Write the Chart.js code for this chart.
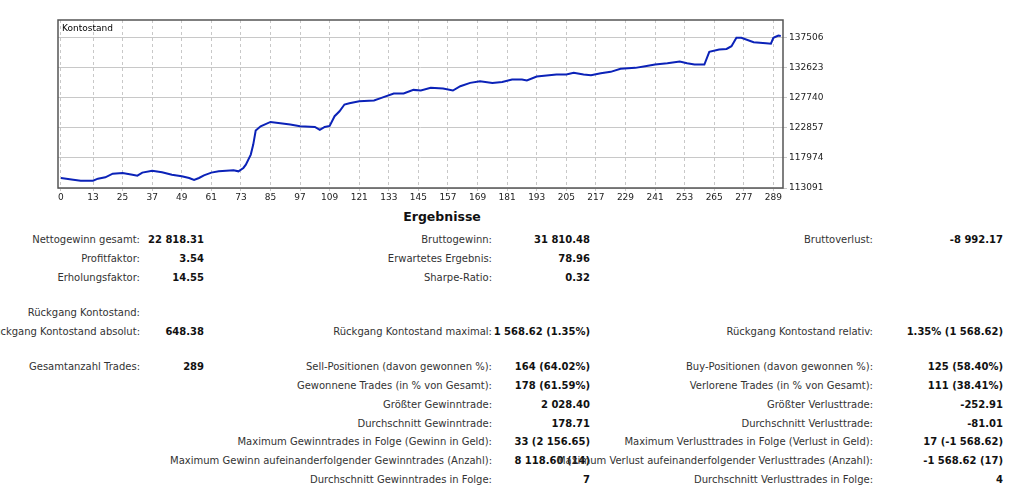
<!DOCTYPE html>
<html><head><meta charset="utf-8">
<script src="https://cdn.jsdelivr.net/npm/chart.js@4"></script>
<style>
body{margin:0;background:#fff;width:1030px;height:493px;position:relative;overflow:hidden;font-family:"DejaVu Sans",sans-serif;font-size:10px;color:#222}
#c{position:absolute;left:0;top:0}
.t{position:absolute;white-space:nowrap;line-height:12px}
.l{color:#333}
.v{font-weight:bold;color:#111}
</style></head><body>
<canvas id="c" width="1030" height="205"></canvas>
<div id="tbl"></div>
<script>
const tradeIdx=[0,5,8,13,15,18,21,25,29,31,33,37,41,45,49,52,54,56,58,61,64,70,72,74,75,77,78,79,81,85,89,93,97,103,105,107,109,111,113,115,117,121,127,130,135,139,143,146,150,155,159,162,166,170,175,179,183,187,189,193,197,201,205,208,212,215,219,223,227,233,237,241,246,251,254,257,261,263,267,270,272,274,276,281,286,288,289,291,292];
const balance=[114720,114450,114285,114285,114610,114830,115420,115530,115260,115100,115590,115910,115640,115260,114990,114720,114390,114720,115150,115590,115800,115970,115800,116350,116890,118520,120150,122420,123130,123830,123620,123400,123130,123020,122530,123020,123180,124760,125570,126660,126870,127200,127310,127740,128450,128450,129040,128930,129370,129260,128930,129640,130180,130450,130180,130340,130720,130720,130560,131210,131370,131540,131540,131810,131540,131430,131750,131970,132460,132620,132890,133160,133380,133650,133380,133160,133160,135220,135600,135700,136140,137500,137500,136800,136640,136560,137500,137880,137800];
const xTicks=[0,13,25,37,49,61,73,85,97,109,121,133,145,157,169,181,193,205,217,229,241,253,265,277,289];
const yTicks=[113091,117974,122857,127740,132623,137506];

const frame={id:'frame',afterDraw(ch){const a=ch.chartArea,c=ch.ctx;c.save();c.strokeStyle='#555';c.lineWidth=1.5;c.strokeRect(a.left,a.top,a.right-a.left,a.bottom-a.top);
c.fillStyle='#000';c.font='9px "DejaVu Sans"';c.textBaseline='top';c.fillText('Kontostand',a.left+4,a.top+4);c.restore();}};
new Chart(document.getElementById('c'),{type:'line',
data:{datasets:[{data:tradeIdx.map((x,i)=>({x,y:balance[i]})),borderColor:'#0b22b8',borderWidth:2,pointRadius:0,tension:0}]},
options:{responsive:false,animation:false,layout:{padding:{left:58,top:20,right:0,bottom:0}},
plugins:{legend:{display:false},tooltip:{enabled:false}},
scales:{
x:{type:'linear',min:-1.2,max:292.9,afterBuildTicks(s){s.ticks=xTicks.map(v=>({value:v}));},afterFit(s){s.height=17;},
 grid:{color:'#c8c8c8',tickLength:3,drawTicks:true},border:{display:false,dash:[3,3]},
 ticks:{color:'#222',font:{size:9,family:'DejaVu Sans'},padding:1,maxRotation:0,autoSkip:false,callback:v=>v}},
y:{position:'right',min:113091,max:140400,afterBuildTicks(s){s.ticks=yTicks.map(v=>({value:v}));},afterFit(s){s.width=247;},
 grid:{color:'#c8c8c8',tickLength:4},border:{display:false},
 ticks:{color:'#222',font:{size:9,family:'DejaVu Sans'},padding:2,callback:v=>v}}
}},plugins:[frame]});
// dashed grid
Chart.defaults.scale.grid.borderDash=[3,3];

const labels1=["Nettogewinn gesamt:","Profitfaktor:","Erholungsfaktor:","Rückgang Kontostand:","Rückgang Kontostand absolut:","Gesamtanzahl Trades:"];
const values1=["22 818.31","3.54","14.55","","648.38","289"];
const rows1=[240,259,278,313,332,367];
const labels2=["Bruttogewinn:","Erwartetes Ergebnis:","Sharpe-Ratio:","Rückgang Kontostand maximal:","Sell-Positionen (davon gewonnen %):","Gewonnene Trades (in % von Gesamt):","Größter Gewinntrade:","Durchschnitt Gewinntrade:","Maximum Gewinntrades in Folge (Gewinn in Geld):","Maximum Gewinn aufeinanderfolgender Gewinntrades (Anzahl):","Durchschnitt Gewinntrades in Folge:"];
const values2=["31 810.48","78.96","0.32","1 568.62 (1.35%)","164 (64.02%)","178 (61.59%)","2 028.40","178.71","33 (2 156.65)","8 118.60 (14)","7"];
const rows2=[240,259,278,332,367,386,405,424,442,461,480];
const labels3=["Bruttoverlust:","Rückgang Kontostand relativ:","Buy-Positionen (davon gewonnen %):","Verlorene Trades (in % von Gesamt):","Größter Verlusttrade:","Durchschnitt Verlusttrade:","Maximum Verlusttrades in Folge (Verlust in Geld):","Maximum Verlust aufeinanderfolgender Verlusttrades (Anzahl):","Durchschnitt Verlusttrades in Folge:"];
const values3=["-8 992.17","1.35% (1 568.62)","125 (58.40%)","111 (38.41%)","-252.91","-81.01","17 (-1 568.62)","-1 568.62 (17)","4"];
const rows3=[240,332,367,386,405,424,442,461,480];
const tbl=document.getElementById('tbl');
function put(txt,right,y,cls){if(!txt)return;const d=document.createElement('div');d.className='t '+cls;d.textContent=txt;d.style.right=(1030-right)+'px';d.style.top=(y-6)+'px';tbl.appendChild(d);}
function col(L,V,R,lr,vr){L.forEach((t,i)=>{put(t,lr,R[i],'l');put(V[i],vr,R[i],'v');});}
col(labels1,values1,rows1,140,204);
col(labels2,values2,rows2,492,590);
col(labels3,values3,rows3,873,1003);
const h=document.createElement('div');h.className='t';h.textContent='Ergebnisse';h.style.cssText+='left:0;width:884px;text-align:center;top:211px;font-weight:bold;font-size:12.5px;color:#111';tbl.appendChild(h);
</script></body></html>
